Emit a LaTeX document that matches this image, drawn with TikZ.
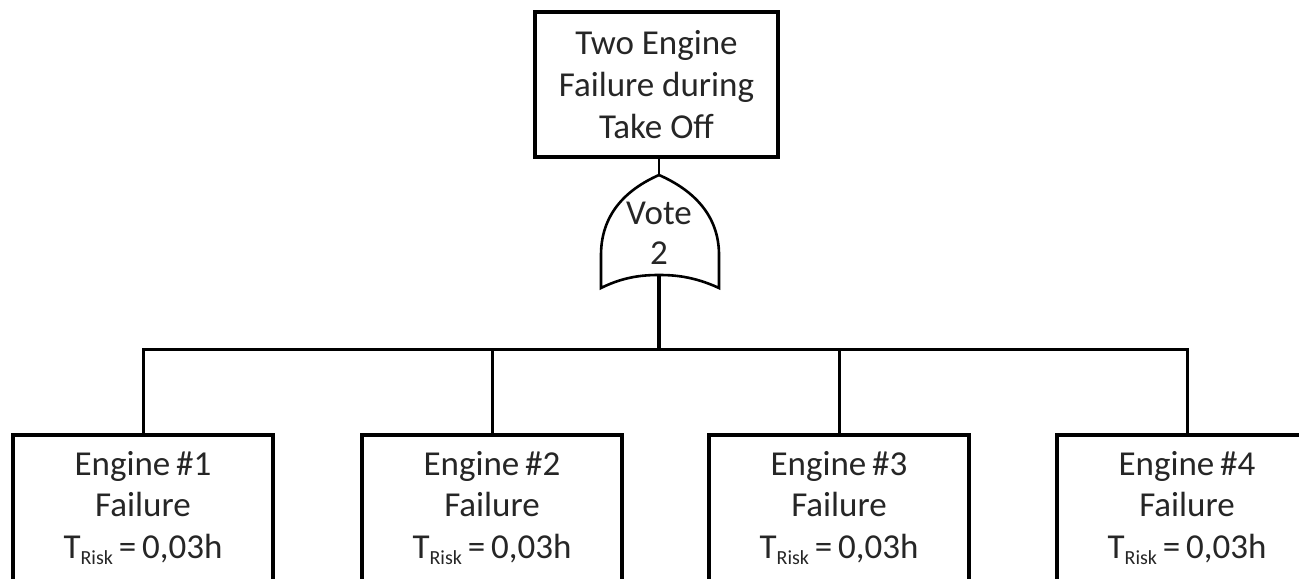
\documentclass[tikz,border=0pt]{standalone}
\usepackage{fontspec}
\setmainfont{Carlito}
\begin{document}
\begin{tikzpicture}[x=0.5pt,y=-0.5pt,
  box/.style={draw=black,line width=1.6pt,fill=white,align=center,inner sep=0pt,
    font=\fontsize{17.5}{20.8}\selectfont,text=black!85},
  conn/.style={draw=black,line width=1.5pt},
  gateline/.style={draw=black,line width=1.3pt}]
\useasboundingbox (0,0) rectangle (1299,578);
\clip (0,0) rectangle (1299,578);
\newcommand{\trisk}{T\raisebox{-0.4ex}{\fontsize{10}{10}\selectfont Risk}\,=\,0,03h}
% top event
\node[box,minimum width=121.5pt,minimum height=72.5pt] (top) at (656.5,84.5)
  {Two Engine\\Failure during\\Take Off};
% gate
\coordinate (gtop) at (659,175);
\coordinate (gbot) at (659,275);
\draw[gateline,fill=white] (gtop) .. controls (625,190) and (601,215) .. (601,255)
  -- (601,288) .. controls (625,276) and (645,275) .. (gbot)
  .. controls (673,275) and (693,276) .. (719,288)
  -- (719,255) .. controls (719,215) and (693,190) .. (gtop) -- cycle;
\node[align=center,inner sep=0pt,font=\fontsize{17.5}{20}\selectfont,text=black!85] (gate) at (659,233) {Vote\\2};
\draw[conn,line width=1.1pt] (gtop |- top.south) -- (gtop);
% basic events
\node[box,minimum width=130pt,minimum height=73pt] (e1) at (143,508) {Engine\,\#1\\Failure\\\trisk};
\node[box,minimum width=130pt,minimum height=73pt] (e2) at (492,508) {Engine\,\#2\\Failure\\\trisk};
\node[box,minimum width=130pt,minimum height=73pt] (e3) at (839,508) {Engine\,\#3\\Failure\\\trisk};
\node[box,minimum width=130pt,minimum height=73pt] (e4) at (1187,508) {Engine\,\#4\\Failure\\\trisk};
% connectors
\coordinate (bar) at (659,349);
\draw[conn,line width=2.1pt] (gbot) -- (bar);
\draw[conn] (e1.north) |- (bar) -| (e4.north);
\draw[conn] (e2.north) -- (e2.north |- bar);
\draw[conn] (e3.north) -- (e3.north |- bar);
\end{tikzpicture}
\end{document}
